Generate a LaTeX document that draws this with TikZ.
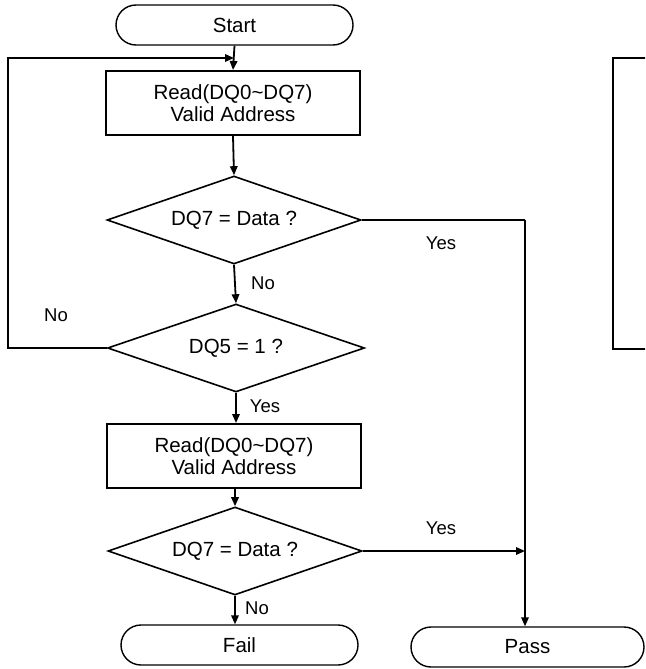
\documentclass[tikz,border=0pt]{standalone}
\usepackage{fontspec}
\setmainfont{Liberation Sans}
\usetikzlibrary{arrows.meta,shapes.geometric}
\begin{document}
\begin{tikzpicture}[x=1pt,y=-1pt,
  base/.style={font=\fontsize{20.5}{22}\selectfont, align=center, inner sep=0pt},
  term/.style={base, draw, line width=1.4pt, rounded corners=20pt, minimum height=40pt},
  proc/.style={base, draw, line width=2pt, minimum width=254pt, minimum height=64pt},
  dec/.style={base, draw, line width=1.6pt, diamond, aspect=2.9, minimum width=254pt, minimum height=88pt},
  lbl/.style={font=\fontsize{18.5}{22}\selectfont, inner sep=0pt},
  arr/.style={line width=1.8pt, -{Triangle[length=9pt,width=7.5pt]}},
  ln/.style={line width=1.8pt}]
\useasboundingbox (0,0) rectangle (645,669);
\clip (0,0) rectangle (645,669);
\node[term, minimum width=237pt] (start) at (234.5,25) {Start};
\node[proc] (read1) at (233,103) {Read(DQ0\textasciitilde DQ7)\\Valid Address};
\node[dec] (dec1) at (234,220) {DQ7 = Data ?};
\node[dec, minimum width=257pt] (dec2) at (236,348) {DQ5 = 1 ?};
\node[proc] (read2) at (234,456) {Read(DQ0\textasciitilde DQ7)\\Valid Address};
\node[dec] (dec3) at (235,551) {DQ7 = Data ?};
\node[term, minimum width=237pt] (fail) at (239.5,645) {Fail};
\node[term, minimum width=233pt] (pass) at (527.5,647) {Pass};
\node[draw, line width=2pt, minimum width=100pt, minimum height=291pt, inner sep=0pt, anchor=north west] (side) at (612,57) {};
\coordinate (lc) at (8,58);
\coordinate (j1) at (234,58);
\coordinate (j2) at (525,220);
\coordinate (j3) at (525,551);
\draw[arr] (start.south) -- (read1.north);
\draw[arr] (dec2.west) -| (lc) -- (j1);
\draw[arr] (read1.south) -- (dec1.north);
\draw[arr] (dec1.south) -- (dec2.north);
\draw[ln] (dec1.east) -- (j2);
\draw[arr] (j2) -- (j2 |- pass.north);
\draw[arr] (dec2.south) -- (dec2.south |- read2.north);
\draw[arr] (read2.south) -- (read2.south -| dec3.north) -- (dec3.north);
\draw[arr] (dec3.east) -- (j3);
\draw[arr] (dec3.south) -- (dec3.south |- fail.north);
\node[lbl] (l1) at (56,315) {No};
\node[lbl] (l2) at (263,283) {No};
\node[lbl] (l3) at (441,243) {Yes};
\node[lbl] (l4) at (265,406) {Yes};
\node[lbl] (l5) at (441,528) {Yes};
\node[lbl] (l6) at (257,608) {No};
\end{tikzpicture}
\end{document}
